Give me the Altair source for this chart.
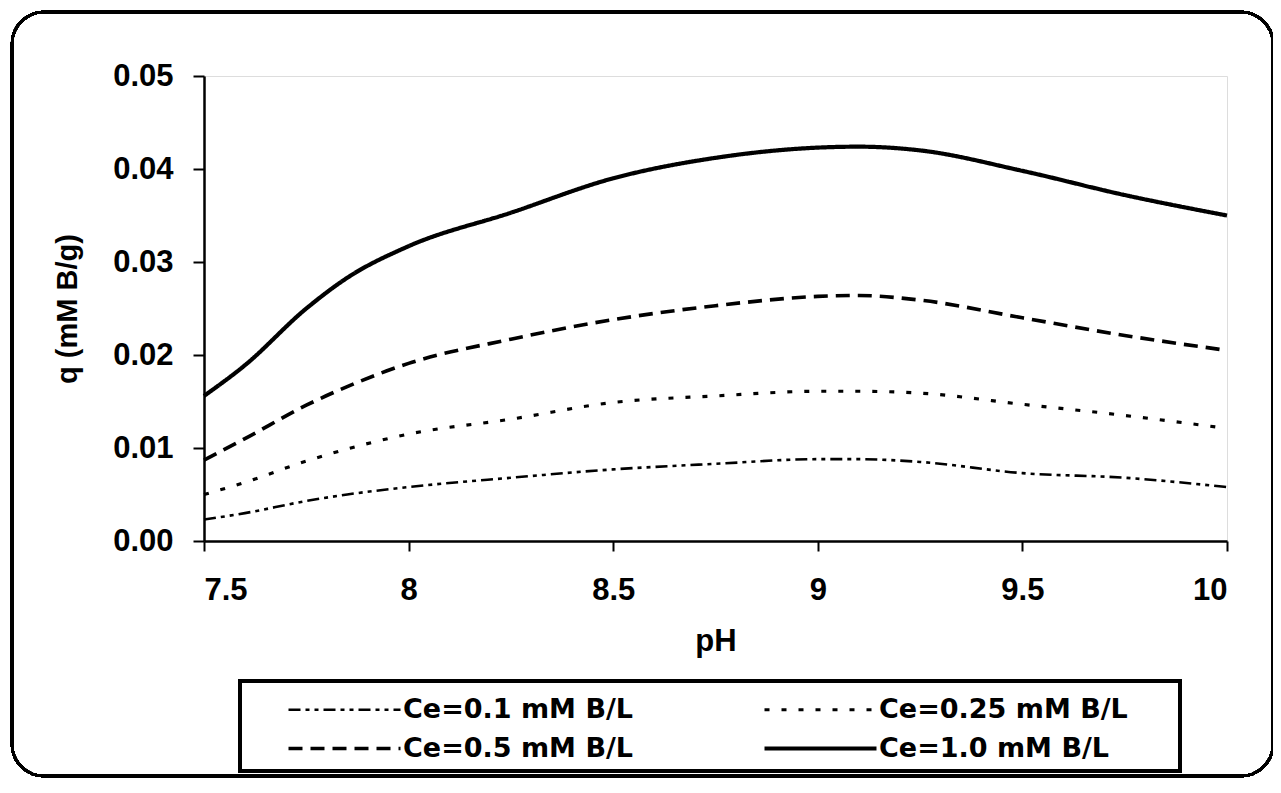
import altair as alt
import pandas as pd

ph = [7.5, 7.6, 7.75, 7.85, 8.0, 8.25, 8.5, 8.75, 9.0, 9.1, 9.25, 9.5, 9.75, 10.0]
q_01 = [0.0023, 0.0030, 0.0043, 0.0050, 0.0058, 0.0068, 0.0077, 0.0083, 0.0088, 0.0088, 0.0085, 0.0073, 0.0068, 0.0058]
q_025 = [0.0050, 0.0063, 0.0086, 0.0099, 0.0115, 0.0131, 0.0149, 0.0156, 0.0161, 0.0161, 0.0159, 0.0147, 0.0135, 0.0121]
q_05 = [0.0087, 0.0110, 0.0146, 0.0166, 0.0191, 0.0217, 0.0238, 0.0253, 0.0263, 0.0264, 0.0259, 0.0240, 0.0221, 0.0205]
q_10 = [0.0156, 0.0189, 0.0250, 0.0283, 0.0317, 0.0353, 0.0390, 0.0412, 0.0423, 0.0424, 0.0420, 0.0398, 0.0372, 0.0350]
series = ["Ce=0.1 mM B/L", "Ce=0.25 mM B/L", "Ce=0.5 mM B/L", "Ce=1.0 mM B/L"]
dashes = [[12, 5, 4, 5, 4, 5], [5, 12], [14, 8], [1, 0]]
widths = [2.6, 4.2, 2.8, 2.6]
x_ticks = [7.5, 8, 8.5, 9, 9.5, 10]
y_ticks = [0.0, 0.01, 0.02, 0.03, 0.04, 0.05]

rows = []
for name, vals in zip(series, [q_01, q_025, q_05, q_10]):
    for p, v in zip(ph, vals):
        rows.append({"pH": p, "q": v, "series": name})
df = pd.DataFrame(rows)

FONT = "Liberation Sans"
W, H = 1023, 465

# long horizontal stroke as legend symbol: path in unit coords, scaled by sqrt(size)/2
SYM_SIZE = 196          # sqrt = 14 -> scale 7 -> path -8..8 gives 112 px
SYM_PATH = "M -8 0 L 8 0"

lines = alt.Chart(df).mark_line(
    color="black", interpolate="monotone"
).encode(
    x=alt.X("pH:Q", scale=alt.Scale(domain=[7.5, 10], nice=False),
            axis=alt.Axis(values=x_ticks, title="pH", format="~g",
                          labelFont=FONT, labelFontSize=31, labelFontWeight="bold",
                          labelColor="black", labelPadding=24, tickSize=10,
                          tickColor="black", tickWidth=2, domainColor="black",
                          domainWidth=2.5, grid=False,
                          titleFont=FONT, titleFontSize=31, titleFontWeight="bold",
                          titleColor="black", titlePadding=21)),
    y=alt.Y("q:Q", scale=alt.Scale(domain=[0, 0.05], nice=False),
            axis=alt.Axis(values=y_ticks, title="q (mM B/g)", format=".2f",
                          labelFont=FONT, labelFontSize=31, labelFontWeight="bold",
                          labelColor="black", labelPadding=20, tickSize=11,
                          tickColor="black", tickWidth=2, domainColor="black",
                          domainWidth=2.5, grid=False,
                          titleFont=FONT, titleFontSize=29, titleFontWeight="bold",
                          titleColor="black", titlePadding=30)),
    strokeDash=alt.StrokeDash(
        "series:N",
        scale=alt.Scale(domain=series, range=dashes),
        sort=series,
        legend=alt.Legend(
            title=None, orient="none", legendX=86, legendY=620,
            direction="horizontal", columns=2, columnPadding=122, rowPadding=11,
            padding=0,
            symbolType=SYM_PATH, symbolSize=SYM_SIZE, symbolStrokeWidth=2.6,
            symbolStrokeColor="black", symbolOffset=41, labelOffset=45,
            labelFont="DejaVu Sans", labelFontSize=27, labelFontWeight="bold",
            labelColor="black", labelLimit=400,
        ),
    ),
    strokeWidth=alt.StrokeWidth(
        "series:N", scale=alt.Scale(domain=series, range=widths), legend=None
    ),
)

outer = alt.Chart(df).mark_rect(
    fill=None, stroke="black", strokeWidth=2.5, cornerRadius=32
).encode(
    x=alt.value(-192), x2=alt.value(1069), y=alt.value(-64), y2=alt.value(700)
)

legend_box = alt.Chart(df).mark_rect(
    fill=None, stroke="black", strokeWidth=2.5
).encode(
    x=alt.value(36), x2=alt.value(976), y=alt.value(605), y2=alt.value(695)
)

chart = alt.layer(outer, legend_box, lines).properties(
    width=W, height=H,
    autosize=alt.AutoSizeParams(type="none"),
    padding={"left": 196, "top": 68, "right": 1265 - 196 - W, "bottom": 777 - 68 - H},
).configure_view(
    stroke="black", strokeWidth=2.5
).configure(
    background="white"
)

chart.save("out.html", embed_options={"renderer": "svg", "actions": False})
